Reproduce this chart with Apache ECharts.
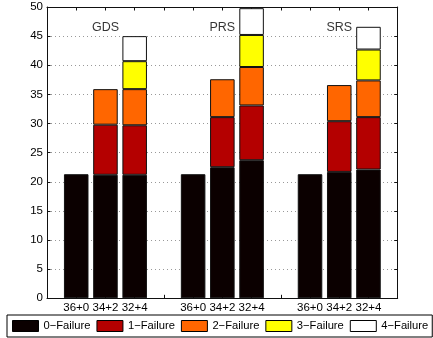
<!DOCTYPE html>
<html>
<head>
<meta charset="utf-8">
<script src="https://cdn.jsdelivr.net/npm/echarts@6/dist/echarts.min.js"></script>
<style>html,body{margin:0;padding:0;background:#fff;}#c{width:433px;height:338px;}</style>
</head>
<body>
<div id="c"></div>
<script>
// positions 0..12; blanks separate groups
const categories = ['', '36+0', '34+2', '32+4', '', '36+0', '34+2', '32+4', '', '36+0', '34+2', '32+4', ''];
const groupNames = ['GDS', 'PRS', 'SRS'];
const groupLabelValue = 46.5;
const seriesNames = ['0\u2212Failure', '1\u2212Failure', '2\u2212Failure', '3\u2212Failure', '4\u2212Failure'];
// segment heights (stacked)
const fail0 = ['-', 21.3, 21.2, 21.2, '-', 21.3, 22.5, 23.7, '-', 21.3, 21.7, 22.1, '-'];
const fail1 = ['-', '-', 8.6, 8.5, '-', '-', 8.6, 9.4, '-', '-', 8.7, 9.0, '-'];
const fail2 = ['-', '-', 6.1, 6.2, '-', '-', 6.5, 6.6, '-', '-', 6.2, 6.3, '-'];
const fail3 = ['-', '-', '-', 4.8, '-', '-', '-', 5.5, '-', '-', '-', 5.3, '-'];
const fail4 = ['-', '-', '-', 4.3, '-', '-', '-', 4.6, '-', '-', '-', 3.9, '-'];
const colors = ['#0b0000', '#b40000', '#ff6600', '#ffff00', '#ffffff'];

const FONT = 'Liberation Sans';
const chart = echarts.init(document.getElementById('c'), null, {renderer: 'canvas'});
const allData = [fail0, fail1, fail2, fail3, fail4];
const barSeries = allData.map((d, i) => ({
  name: seriesNames[i],
  type: 'bar',
  stack: 'total',
  data: d,
  barWidth: '84%',
  itemStyle: {color: colors[i], borderColor: '#111', borderWidth: 1},
  emphasis: {disabled: true},
  animation: false,
  xAxisIndex: 0, yAxisIndex: 0
}));
const labelData = groupNames.map((n, i) => ({value: [2 + 4 * i, groupLabelValue], name: n}));
const labelSeries = {
  type: 'scatter',
  data: labelData,
  symbolSize: 0,
  silent: true,
  animation: false,
  label: {show: true, position: 'inside', formatter: p => p.name, color: '#000', fontFamily: FONT, fontSize: 12.5}
};
const axisLine = {show: true, onZero: false, lineStyle: {color: '#111', width: 1}};
chart.setOption({
  backgroundColor: '#fff',
  animation: false,
  grid: {left: 47, right: 35.3, top: 7, bottom: 39.7, containLabel: false},
  xAxis: [{
    type: 'category', data: categories, boundaryGap: false, position: 'bottom',
    axisLine: axisLine,
    axisTick: {show: true, inside: true, length: 3.5, interval: 0, lineStyle: {color: '#111'}},
    axisLabel: {interval: 0, margin: 4, color: '#000', fontFamily: FONT, fontSize: 11.5},
    splitLine: {show: false}
  }, {
    type: 'category', data: categories, boundaryGap: false, position: 'top',
    axisLine: axisLine,
    axisTick: {show: true, inside: true, length: 3.5, interval: 0, lineStyle: {color: '#111'}},
    axisLabel: {show: false},
    splitLine: {show: false}
  }],
  yAxis: [{
    type: 'value', min: 0, max: 50, interval: 5, position: 'left',
    axisLine: axisLine,
    axisTick: {show: true, inside: true, length: 3.5, lineStyle: {color: '#111'}},
    axisLabel: {margin: 4, color: '#000', fontFamily: FONT, fontSize: 11.5},
    splitLine: {show: true, lineStyle: {type: [1, 3], color: '#999', width: 1}}
  }, {
    type: 'value', min: 0, max: 50, interval: 5, position: 'right',
    axisLine: axisLine,
    axisTick: {show: true, inside: true, length: 3.5, lineStyle: {color: '#111'}},
    axisLabel: {show: false},
    splitLine: {show: false}
  }],
  legend: {
    data: seriesNames,
    left: 7, top: 315, width: 600,
    orient: 'horizontal',
    padding: [5, 4, 5, 5],
    itemGap: 6,
    itemWidth: 26, itemHeight: 11,
    icon: 'rect',
    borderColor: '#000', borderWidth: 1,
    itemStyle: {borderColor: '#000', borderWidth: 1},
    textStyle: {color: '#000', fontFamily: FONT, fontSize: 11.2},
    selectedMode: false
  },
  series: barSeries.concat([labelSeries])
});
</script>
</body>
</html>
